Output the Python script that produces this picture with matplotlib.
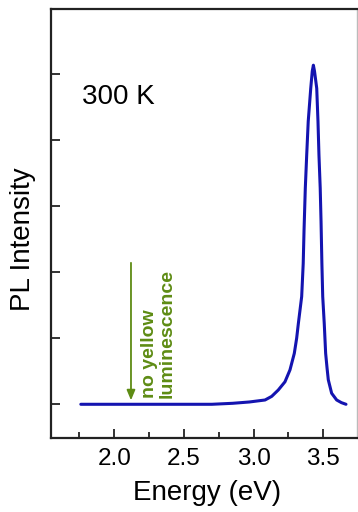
import numpy as np
import matplotlib.pyplot as plt

plt.rcParams['font.family'] = ['Liberation Sans', 'DejaVu Sans']

# PL spectrum at 300 K (energy in eV, intensity in arb. units)
energy = np.array([
    1.76, 2.00, 2.40, 2.70, 2.85, 2.97, 3.082, 3.13, 3.177, 3.225,
    3.261, 3.292, 3.309, 3.321, 3.345, 3.356, 3.362, 3.371, 3.381, 3.392,
    3.410, 3.421, 3.429, 3.437, 3.453, 3.462, 3.469, 3.478, 3.484, 3.490,
    3.496, 3.507, 3.517, 3.527, 3.536, 3.560, 3.596, 3.630, 3.663
])
intensity = np.array([
    0.0, 0.0, 0.0, 0.0, 0.015, 0.035, 0.065, 0.12, 0.216, 0.34,
    0.52, 0.77, 1.0, 1.22, 1.63, 2.13, 2.64, 3.27, 3.77, 4.28,
    4.78, 5.04, 5.13, 5.04, 4.78, 4.28, 3.77, 3.27, 2.76, 2.13,
    1.63, 1.22, 0.77, 0.55, 0.37, 0.167, 0.065, 0.025, 0.0
])

x_ticks = [2.0, 2.5, 3.0, 3.5]
x_minor = [1.75, 2.25, 2.75, 3.25]
y_ticks = [0, 1, 2, 3, 4, 5]

fig = plt.figure(figsize=(3.58, 5.12), dpi=100)
ax = fig.add_axes([51 / 358, 1 - 438 / 512, 306 / 358, 429 / 512])

ax.plot(energy, intensity, color='#1414b0', lw=2.2, solid_joinstyle='round',
        solid_capstyle='round')

# arrow + note
green = '#5e8c14'
ax.annotate('', xy=(2.12, 0.06), xytext=(2.12, 2.14),
            arrowprops=dict(arrowstyle='-|>,head_width=0.25,head_length=0.6',
                            color=green, lw=1.3, shrinkA=0, shrinkB=0))
ax.text(2.19, 0.09, 'no yellow\nluminescence', rotation=90, ha='left', va='bottom',
        color=green, fontsize=14, fontweight='bold', linespacing=1.05)

ax.text(1.766, 4.55, '300 K', fontsize=20, ha='left', va='baseline')

ax.set_xlim(1.546, 3.742)
ax.set_ylim(-0.51, 5.98)
ax.set_xticks(x_ticks)
ax.set_xticklabels(['2.0', '2.5', '3.0', '3.5'])
ax.set_xticks(x_minor, minor=True)
ax.set_yticks(y_ticks)
ax.set_yticklabels([])
ax.tick_params(axis='both', which='major', direction='in', length=6.5, width=1.3,
               labelsize=17.5, pad=7, color='#222222')
ax.tick_params(axis='x', which='minor', direction='in', length=4.3, width=1.3,
               color='#222222')

for side in ['left', 'bottom', 'top']:
    ax.spines[side].set_linewidth(1.6)
    ax.spines[side].set_color('#222222')
ax.spines['right'].set_linewidth(1.0)
ax.spines['right'].set_color('#bbbbbb')

fig.text(23 / 358, 1 - 239 / 512, 'PL Intensity', rotation=90, ha='center', va='center',
         fontsize=20)
fig.text(207.5 / 358, 1 - 500 / 512, 'Energy (eV)', ha='center', va='baseline',
         fontsize=20)

fig.savefig('out.png', dpi=100)
